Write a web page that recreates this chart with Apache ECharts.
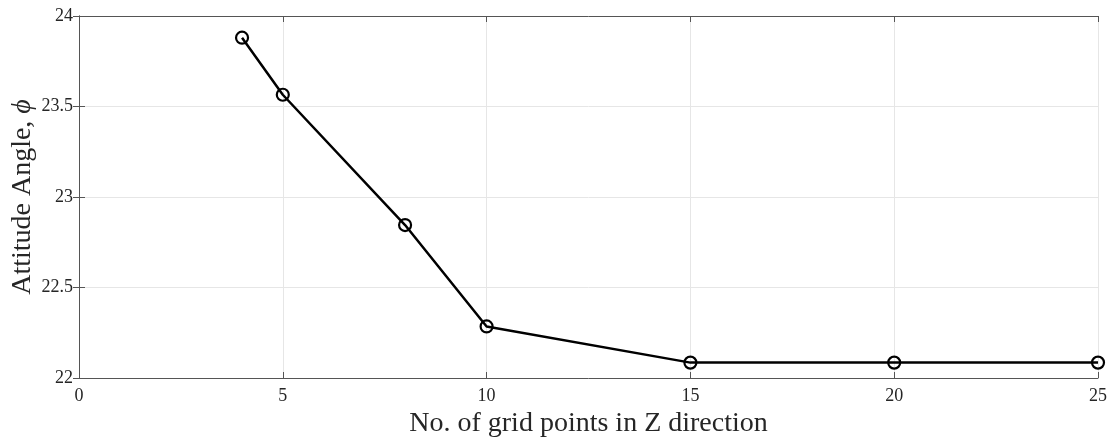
<!DOCTYPE html>
<html>
<head>
<meta charset="utf-8">
<script src="https://cdn.jsdelivr.net/npm/echarts@6/dist/echarts.min.js"></script>
<style>html,body{margin:0;padding:0;background:#fff;}#c{width:1111px;height:442px;}</style>
</head>
<body>
<div id="c"></div>
<script>
const xValues = [4, 5, 8, 10, 15, 20, 25];
const yValues = [23.88, 23.565, 22.845, 22.285, 22.085, 22.085, 22.085];
const xTitle = 'No. of grid points in Z direction';
const yTitle = 'Attitude Angle, ';
const yTitleSymbol = 'ϕ';

const chart = echarts.init(document.getElementById('c'));
const font = 'Liberation Serif';
const axisCol = '#555';
const baseAxis = {
  axisLine: { show: true, lineStyle: { color: axisCol, width: 1 } },
  axisTick: { show: true, inside: true, length: 6, lineStyle: { color: axisCol } },
  splitLine: { show: false }
};
chart.setOption({
  animation: false,
  grid: { left: 79, right: 13, top: 16, bottom: 64, containLabel: false, outerBoundsMode: 'none' },
  xAxis: [
    Object.assign({}, baseAxis, {
      type: 'value', min: 0, max: 25, interval: 5,
      name: xTitle, nameLocation: 'middle', nameGap: 30,
      nameTextStyle: { fontFamily: font, fontSize: 28, color: '#262626' },
      axisLabel: { fontFamily: font, fontSize: 18, color: '#262626', margin: 9 },
      splitLine: { show: true, lineStyle: { color: '#e6e6e6', width: 1 } }
    }),
    Object.assign({}, baseAxis, {
      type: 'value', min: 0, max: 25, interval: 5, position: 'top',
      axisLabel: { show: false }
    })
  ],
  yAxis: [
    Object.assign({}, baseAxis, {
      type: 'value', min: 22, max: 24, interval: 0.5,
      name: '{n|' + yTitle + '}{s|' + yTitleSymbol + '}', nameLocation: 'middle', nameGap: 42,
      nameMoveOverlap: false,
      nameTextStyle: {
        fontFamily: font, fontSize: 28, color: '#262626',
        rich: {
          n: { fontFamily: font, fontSize: 28, color: '#262626' },
          s: { fontFamily: font, fontSize: 28, color: '#262626', fontStyle: 'italic' }
        }
      },
      axisLabel: { fontFamily: font, fontSize: 18, color: '#262626', margin: 6 },
      splitLine: { show: true, lineStyle: { color: '#e6e6e6', width: 1 } }
    }),
    Object.assign({}, baseAxis, {
      type: 'value', min: 22, max: 24, interval: 0.5, position: 'right',
      axisLabel: { show: false }
    })
  ],
  series: [{
    type: 'line',
    data: xValues.map((x, i) => [x, yValues[i]]),
    symbol: 'circle',
    symbolSize: 12,
    showAllSymbol: true,
    lineStyle: { color: '#000', width: 2.5 },
    itemStyle: { color: 'rgba(0,0,0,0)', borderColor: '#000', borderWidth: 2.2 },
    z: 5
  }]
});
</script>
</body>
</html>
